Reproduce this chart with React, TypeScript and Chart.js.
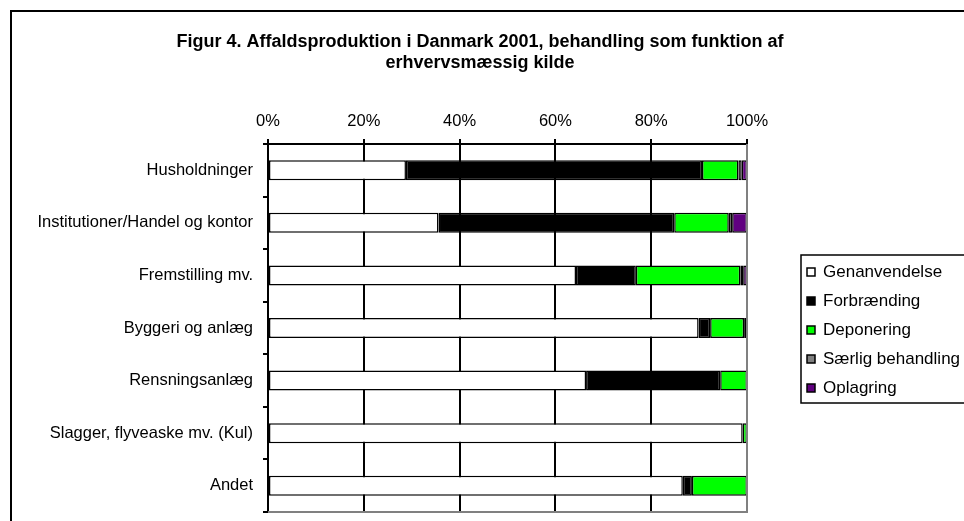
import React, { useEffect, useRef } from "react";
import { Chart, registerables } from "chart.js";

Chart.register(...registerables);

const categories = [
  "Husholdninger",
  "Institutioner/Handel og kontor",
  "Fremstilling mv.",
  "Byggeri og anlæg",
  "Rensningsanlæg",
  "Slagger, flyveaske mv. (Kul)",
  "Andet",
];

const seriesNames = ["Genanvendelse", "Forbrænding", "Deponering", "Særlig behandling", "Oplagring"];
const seriesColors = ["#FFFFFF", "#000000", "#00FF00", "#808080", "#600080"];

const genanvendelse = [28.8, 35.6, 64.3, 89.9, 66.4, 99.1, 86.6];
const forbraending = [61.8, 49.2, 12.5, 2.4, 28.0, 0.0, 1.9];
const deponering = [7.6, 11.4, 21.8, 7.1, 5.6, 0.9, 11.5];
const saerlig = [0.7, 0.7, 0.6, 0.6, 0.0, 0.0, 0.0];
const oplagring = [1.1, 3.1, 0.8, 0.0, 0.0, 0.0, 0.0];

const xTicks = [0, 20, 40, 60, 80, 100];
const titleLines = [
  "Figur 4. Affaldsproduktion i Danmark 2001, behandling som funktion af",
  "erhvervsmæssig kilde",
];

const FONT = "'Liberation Sans', Arial, sans-serif";

const decor = {
  id: "decor",
  afterDraw(chart: any) {
    const ctx = chart.ctx as CanvasRenderingContext2D;
    const { left, right, top, bottom } = chart.chartArea;
    ctx.save();
    // plot area border (right & bottom) in grey
    ctx.strokeStyle = "#808080";
    ctx.lineWidth = 2;
    ctx.beginPath();
    ctx.moveTo(right, top);
    ctx.lineTo(right, bottom);
    ctx.lineTo(left, bottom);
    ctx.stroke();

    // outer chart border (cropped at right and bottom)
    ctx.strokeStyle = "#000";
    ctx.lineWidth = 2;
    ctx.beginPath();
    ctx.moveTo(11, 600);
    ctx.lineTo(11, 11);
    ctx.lineTo(1000, 11);
    ctx.stroke();

    // title
    ctx.fillStyle = "#000";
    ctx.font = `bold 18px ${FONT}`;
    ctx.textAlign = "center";
    ctx.textBaseline = "middle";
    titleLines.forEach((t, i) => ctx.fillText(t, 480, 42 + i * 21));

    // legend
    const lx = 801, ly = 255, lh = 148;
    ctx.lineWidth = 1.5;
    ctx.strokeStyle = "#000";
    ctx.strokeRect(lx, ly, 200, lh);
    ctx.font = `17px ${FONT}`;
    ctx.textAlign = "left";
    chart.data.datasets.forEach((ds: any, i: number) => {
      const cy = ly + 17 + i * 29;
      ctx.fillStyle = ds.backgroundColor;
      ctx.fillRect(807, cy - 4, 8, 8);
      ctx.lineWidth = 1.5;
      ctx.strokeStyle = "#000";
      ctx.strokeRect(807, cy - 4, 8, 8);
      ctx.fillStyle = "#000";
      ctx.fillText(ds.label, 823, cy);
    });
    ctx.restore();
  },
};

export default function App() {
  const ref = useRef<HTMLCanvasElement>(null);
  useEffect(() => {
    const series = [genanvendelse, forbraending, deponering, saerlig, oplagring];
    const chart = new Chart(ref.current!, {
      type: "bar",
      data: {
        labels: categories,
        datasets: series.map((d, i) => ({
          label: seriesNames[i],
          data: d,
          backgroundColor: seriesColors[i],
          borderColor: "#000",
          borderWidth: 1.5,
          borderSkipped: false,
          barPercentage: 0.38,
          categoryPercentage: 1,
        })),
      },
      options: {
        indexAxis: "y",
        responsive: false,
        animation: false,
        layout: { padding: { left: 10, right: 217, top: 100, bottom: 9 } },
        plugins: { legend: { display: false }, title: { display: false }, tooltip: { enabled: false } },
        scales: {
          x: {
            position: "top",
            stacked: true,
            min: 0,
            max: 100,
            afterBuildTicks: (s: any) => {
              s.ticks = xTicks.map((v) => ({ value: v }));
            },
            afterFit: (s: any) => {
              s.height = 44;
            },
            ticks: {
              callback: (v: any) => v + "%",
              color: "#000",
              font: { family: FONT, size: 16.5 },
              padding: 8,
              maxRotation: 0,
            },
            grid: {
              color: (c: any) => (c.index === 5 ? "#808080" : "#000"),
              lineWidth: 2,
              tickLength: 5,
              tickColor: "#000",
            },
            border: { color: "#000", width: 2 },
          },
          y: {
            stacked: true,
            afterFit: (s: any) => {
              s.width = 258;
              s.paddingTop = 0;
              s.paddingBottom = 0;
            },
            ticks: {
              color: "#000",
              font: { family: FONT, size: 16.5 },
              padding: 10,
            },
            grid: {
              drawOnChartArea: false,
              offset: true,
              tickLength: 5,
              color: "#000",
              lineWidth: 2,
            },
            border: { color: "#000", width: 2 },
          },
        },
      },
      plugins: [decor],
    });
    return () => chart.destroy();
  }, []);
  return (
    <div style={{ position: "absolute", left: 0, top: 0, width: 964, height: 521, background: "#fff" }}>
      <canvas ref={ref} width={964} height={521} style={{ display: "block" }} />
    </div>
  );
}
